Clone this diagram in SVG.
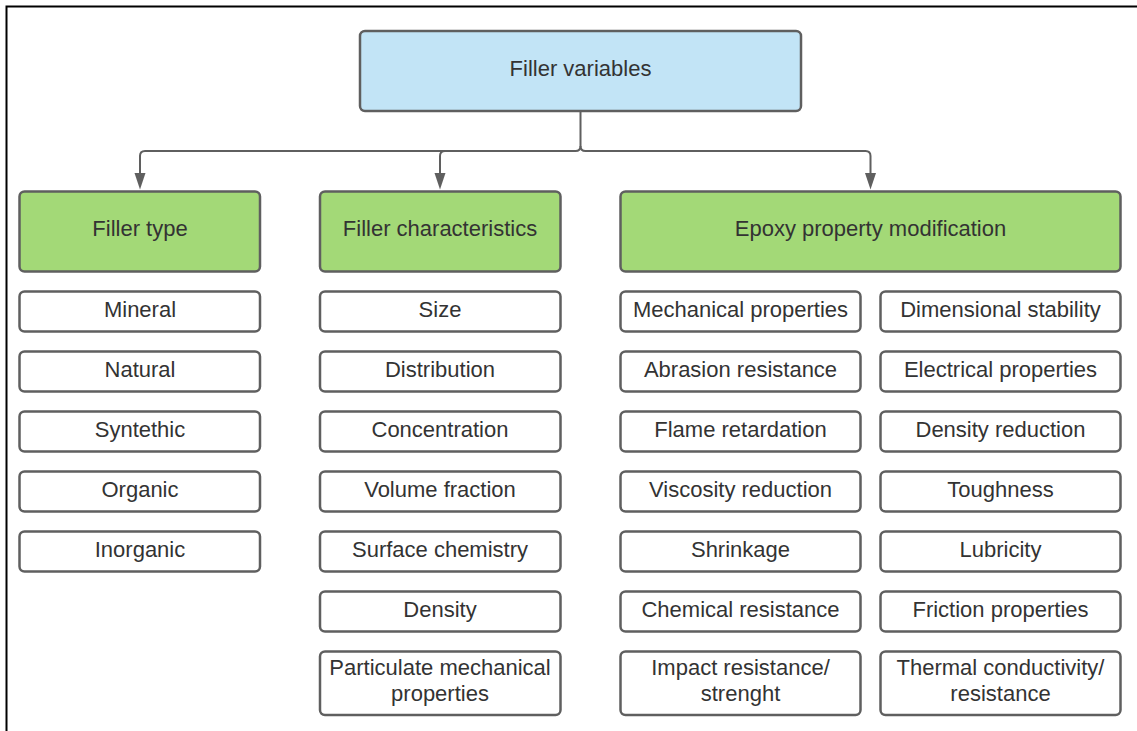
<svg xmlns="http://www.w3.org/2000/svg" width="1137" height="731" viewBox="0 0 1137 731">
  <style>
    .box { stroke: #5f5f5f; stroke-width: 2.5; }
    .root { fill: #c2e4f6; }
    .head { fill: #a3d977; }
    .item { fill: #ffffff; }
    text { font-family: "Liberation Sans", Arial, sans-serif; font-size: 22px; fill: #333333; text-anchor: middle; }
    .conn { fill: none; stroke: #5f5f5f; stroke-width: 2; }
    .tip { fill: #5f5f5f; }
  </style>

  <rect width="1137" height="731" fill="#ffffff"/>
  <!-- frame -->
  <path d="M6.5,731 V6.5 H1137" fill="none" stroke="#000000" stroke-width="2"/>

  <!-- connectors -->
  <g id="connectors">
    <path class="conn" d="M580.5,111 V146 Q580.5,151 575.5,151 H145 Q140,151 140,156 V174"/>
    <path class="conn" d="M445,151 Q440,151 440,156 V174"/>
    <path class="conn" d="M580.5,146 Q580.5,151 585.5,151 H865.5 Q870.5,151 870.5,156 V174"/>
    <path class="tip" d="M134.5,173 H145.5 L140,189.5 Z"/>
    <path class="tip" d="M434.5,173 H445.5 L440,189.5 Z"/>
    <path class="tip" d="M865,173 H876 L870.5,189.5 Z"/>
  </g>

  <g id="filler-variables">
    <rect class="box root" x="360" y="31" width="441" height="80" rx="5"/>
    <text x="580.5" y="76">Filler variables</text>
  </g>

  <!-- category headers -->
  <g id="filler-type">
    <rect class="box head" x="19.5" y="191.5" width="240.5" height="80" rx="5"/>
    <text x="140" y="236">Filler type</text>
  </g>
  <g id="filler-characteristics">
    <rect class="box head" x="320" y="191.5" width="240.5" height="80" rx="5"/>
    <text x="440" y="236">Filler characteristics</text>
  </g>
  <g id="epoxy-property-modification">
    <rect class="box head" x="620.5" y="191.5" width="500" height="80" rx="5"/>
    <text x="870.5" y="236">Epoxy property modification</text>
  </g>

  <!-- filler type items -->
  <g id="mineral"><rect class="box item" x="19.5" y="291.5" width="240.5" height="40" rx="5"/><text x="140" y="317">Mineral</text></g>
  <g id="natural"><rect class="box item" x="19.5" y="351.5" width="240.5" height="40" rx="5"/><text x="140" y="377">Natural</text></g>
  <g id="synthetic"><rect class="box item" x="19.5" y="411.5" width="240.5" height="40" rx="5"/><text x="140" y="437">Syntethic</text></g>
  <g id="organic"><rect class="box item" x="19.5" y="471.5" width="240.5" height="40" rx="5"/><text x="140" y="497">Organic</text></g>
  <g id="inorganic"><rect class="box item" x="19.5" y="531.5" width="240.5" height="40" rx="5"/><text x="140" y="557">Inorganic</text></g>

  <!-- filler characteristics items -->
  <g id="size"><rect class="box item" x="320" y="291.5" width="240.5" height="40" rx="5"/><text x="440" y="317">Size</text></g>
  <g id="distribution"><rect class="box item" x="320" y="351.5" width="240.5" height="40" rx="5"/><text x="440" y="377">Distribution</text></g>
  <g id="concentration"><rect class="box item" x="320" y="411.5" width="240.5" height="40" rx="5"/><text x="440" y="437">Concentration</text></g>
  <g id="volume-fraction"><rect class="box item" x="320" y="471.5" width="240.5" height="40" rx="5"/><text x="440" y="497">Volume fraction</text></g>
  <g id="surface-chemistry"><rect class="box item" x="320" y="531.5" width="240.5" height="40" rx="5"/><text x="440" y="557">Surface chemistry</text></g>
  <g id="density"><rect class="box item" x="320" y="591.5" width="240.5" height="40" rx="5"/><text x="440" y="617">Density</text></g>
  <g id="particulate-mechanical-properties"><rect class="box item" x="320" y="651.5" width="240.5" height="63.5" rx="5"/><text x="440" y="675">Particulate mechanical</text><text x="440" y="701">properties</text></g>

  <!-- epoxy property modification items, left column -->
  <g id="mechanical-properties"><rect class="box item" x="620.5" y="291.5" width="240" height="40" rx="5"/><text x="740.5" y="317">Mechanical properties</text></g>
  <g id="abrasion-resistance"><rect class="box item" x="620.5" y="351.5" width="240" height="40" rx="5"/><text x="740.5" y="377">Abrasion resistance</text></g>
  <g id="flame-retardation"><rect class="box item" x="620.5" y="411.5" width="240" height="40" rx="5"/><text x="740.5" y="437">Flame retardation</text></g>
  <g id="viscosity-reduction"><rect class="box item" x="620.5" y="471.5" width="240" height="40" rx="5"/><text x="740.5" y="497">Viscosity reduction</text></g>
  <g id="shrinkage"><rect class="box item" x="620.5" y="531.5" width="240" height="40" rx="5"/><text x="740.5" y="557">Shrinkage</text></g>
  <g id="chemical-resistance"><rect class="box item" x="620.5" y="591.5" width="240" height="40" rx="5"/><text x="740.5" y="617">Chemical resistance</text></g>
  <g id="impact-resistance"><rect class="box item" x="620.5" y="651.5" width="240" height="63.5" rx="5"/><text x="740.5" y="675">Impact resistance/</text><text x="740.5" y="701">strenght</text></g>

  <!-- epoxy property modification items, right column -->
  <g id="dimensional-stability"><rect class="box item" x="880.5" y="291.5" width="240" height="40" rx="5"/><text x="1000.5" y="317">Dimensional stability</text></g>
  <g id="electrical-properties"><rect class="box item" x="880.5" y="351.5" width="240" height="40" rx="5"/><text x="1000.5" y="377">Electrical properties</text></g>
  <g id="density-reduction"><rect class="box item" x="880.5" y="411.5" width="240" height="40" rx="5"/><text x="1000.5" y="437">Density reduction</text></g>
  <g id="toughness"><rect class="box item" x="880.5" y="471.5" width="240" height="40" rx="5"/><text x="1000.5" y="497">Toughness</text></g>
  <g id="lubricity"><rect class="box item" x="880.5" y="531.5" width="240" height="40" rx="5"/><text x="1000.5" y="557">Lubricity</text></g>
  <g id="friction-properties"><rect class="box item" x="880.5" y="591.5" width="240" height="40" rx="5"/><text x="1000.5" y="617">Friction properties</text></g>
  <g id="thermal-conductivity"><rect class="box item" x="880.5" y="651.5" width="240" height="63.5" rx="5"/><text x="1000.5" y="675">Thermal conductivity/</text><text x="1000.5" y="701">resistance</text></g>
</svg>
